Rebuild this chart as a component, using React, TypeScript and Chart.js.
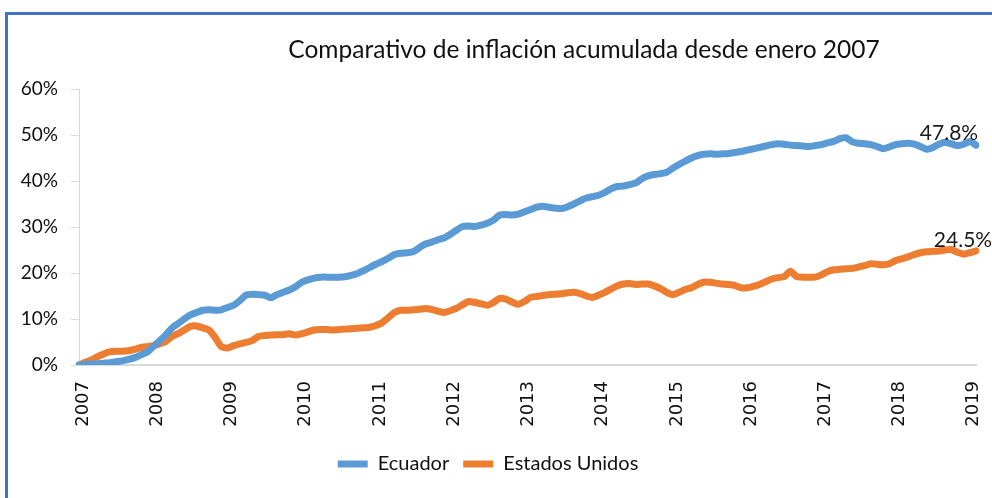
import React, { useEffect, useRef } from "react";
import { Chart, registerables } from "chart.js";

Chart.register(...registerables);

const titleText = "Comparativo de inflación acumulada desde enero 2007";
const years = ["2007","2008","2009","2010","2011","2012","2013","2014","2015","2016","2017","2018","2019"];
const seriesNames = ["Ecuador", "Estados Unidos"];
const endLabels = ["47.8%", "24.5%"];
const yTicks = [0, 10, 20, 30, 40, 50, 60];

// Cumulative inflation (%) monthly from Jan 2007
const ecuador = [
  0, 0.1, 0.2, 0.3, 0.4, 0.5, 0.7, 0.9, 1.2, 1.6, 2.2, 2.8,
  4.0, 5.2, 6.5, 8.0, 9.0, 10.0, 10.9, 11.4, 11.9, 12.0, 11.9, 12.0,
  12.5, 13.0, 14.0, 15.2, 15.4, 15.3, 15.2, 14.6, 15.3, 15.8, 16.3, 17.0,
  18.0, 18.5, 18.9, 19.1, 19.1, 19.1, 19.1, 19.2, 19.5, 19.9, 20.5, 21.2,
  21.9, 22.5, 23.2, 24.0, 24.3, 24.4, 24.6, 25.5, 26.3, 26.7, 27.2, 27.6,
  28.4, 29.3, 30.1, 30.2, 30.1, 30.4, 30.8, 31.5, 32.6, 32.7, 32.6, 32.8,
  33.3, 33.8, 34.3, 34.5, 34.3, 34.1, 34.0, 34.4, 35.0, 35.7, 36.3, 36.6,
  36.9, 37.5, 38.3, 38.8, 38.9, 39.2, 39.6, 40.5, 41.1, 41.4, 41.6, 41.9,
  42.8, 43.6, 44.3, 45.0, 45.5, 45.8, 45.9, 45.8, 45.9, 46.0, 46.2, 46.4,
  46.7, 47.0, 47.3, 47.6, 47.9, 48.1, 48.0, 47.8, 47.7, 47.6, 47.5, 47.7,
  47.9, 48.3, 48.6, 49.2, 49.4, 48.5, 48.2, 48.1, 47.9, 47.5, 47.0, 47.4,
  47.9, 48.1, 48.2, 48.0, 47.5, 46.9, 47.3, 48.0, 48.4, 48.1, 47.7, 48.0,
  48.6, 47.8
];

const estadosUnidos = [
  0, 0.6, 1.1, 1.8, 2.4, 2.9, 3.0, 3.0, 3.1, 3.4, 3.8, 4.0,
  4.2, 4.6, 5.1, 6.2, 6.8, 7.6, 8.4, 8.5, 8.1, 7.6, 6.0, 4.0,
  3.7, 4.2, 4.6, 4.9, 5.3, 6.2, 6.4, 6.5, 6.6, 6.6, 6.8, 6.5,
  6.8, 7.2, 7.6, 7.7, 7.7, 7.6, 7.7, 7.8, 7.9, 8.0, 8.1, 8.2,
  8.6, 9.2, 10.3, 11.4, 11.9, 11.9, 12.0, 12.1, 12.3, 12.1, 11.7, 11.4,
  11.8, 12.3, 13.1, 13.8, 13.6, 13.3, 13.0, 13.6, 14.5, 14.3, 13.7, 13.2,
  13.8, 14.7, 14.9, 15.1, 15.3, 15.4, 15.5, 15.7, 15.8, 15.5, 15.0, 14.7,
  15.2, 15.8, 16.5, 17.2, 17.6, 17.7, 17.5, 17.6, 17.6, 17.2, 16.6, 15.8,
  15.3, 15.8, 16.4, 16.8, 17.5, 18.0, 18.0, 17.8, 17.6, 17.5, 17.3, 16.8,
  16.8, 17.1, 17.5, 18.1, 18.7, 19.0, 19.2, 20.4, 19.2, 19.1, 19.1, 19.1,
  19.6, 20.3, 20.7, 20.8, 20.9, 21.0, 21.3, 21.6, 22.0, 21.9, 21.8, 22.0,
  22.7, 23.1, 23.5, 24.0, 24.4, 24.6, 24.7, 24.8, 25.0, 25.1, 24.5, 24.1,
  24.4, 24.8
];

const months = ["01","02","03","04","05","06","07","08","09","10","11","12"];
const categories: string[] = [];
years.forEach((y) => months.forEach((m) => categories.push(`${y}-${m}`)));
const labels = categories.slice(0, ecuador.length);

const colors = ["#5B9BD5", "#ED7D31"];
const labelFont = "Lato";

const overlayPlugin = {
  id: "overlay",
  afterDraw(chart: any) {
    const ctx = chart.ctx;
    ctx.save();
    // title
    ctx.fillStyle = "#111";
    ctx.font = `24.5px ${labelFont}`;
    ctx.textAlign = "center";
    ctx.textBaseline = "middle";
    ctx.fillText(titleText, 584, 50);
    // end labels
    const offsets = [
      [-27, -5],
      [-13, -4],
    ];
    chart.data.datasets.forEach((ds: any, i: number) => {
      const meta = chart.getDatasetMeta(i);
      const pt = meta.data[meta.data.length - 1];
      ctx.font = `21px ${labelFont}`;
      ctx.fillStyle = "#1a1a1a";
      ctx.textAlign = "center";
      ctx.textBaseline = "alphabetic";
      ctx.fillText(endLabels[i], pt.x + offsets[i][0], pt.y + offsets[i][1]);
    });
    ctx.restore();
  },
};

export default function App() {
  const ref = useRef<HTMLCanvasElement>(null);
  useEffect(() => {
    if (!ref.current) return;
    const chart = new Chart(ref.current, {
      type: "line",
      data: {
        labels,
        datasets: [
          {
            label: seriesNames[0],
            data: ecuador,
            borderColor: colors[0],
            backgroundColor: colors[0],
            borderWidth: 7,
            pointRadius: 0,
            tension: 0.2,
            borderCapStyle: "round",
            borderJoinStyle: "round",
          },
          {
            label: seriesNames[1],
            data: estadosUnidos,
            borderColor: colors[1],
            backgroundColor: colors[1],
            borderWidth: 7,
            pointRadius: 0,
            tension: 0.2,
            borderCapStyle: "round",
            borderJoinStyle: "round",
          },
        ],
      },
      options: {
        responsive: false,
        animation: false,
        layout: { padding: { left: 0, right: 16, top: 89, bottom: 14 } },
        plugins: {
          title: { display: false },
          tooltip: { enabled: false },
          legend: {
            position: "bottom",
            labels: {
              usePointStyle: true,
              pointStyle: "line",
              pointStyleWidth: 30,
              boxHeight: 7,
              padding: 14,
              color: "#111",
              font: { family: labelFont, size: 20 },
            },
          },
        },
        scales: {
          x: {
            type: "category",
            grid: { display: false, drawTicks: false },
            border: { display: true, color: "#d9d9d9", width: 2 },
            ticks: {
              autoSkip: false,
              maxRotation: 90,
              minRotation: 90,
              padding: 16,
              labelOffset: 4,
              color: "#111",
              font: { family: "DejaVu Sans", size: 18 },
              callback: (_v: any, i: number) => (i % 12 === 0 ? labels[i].slice(0, 4) : null),
            },
            afterFit: (s: any) => {
              s.height = 75;
              s.paddingLeft = 0;
              s.paddingRight = 0;
            },
          },
          y: {
            min: 0,
            max: 60,
            afterBuildTicks: (s: any) => {
              s.ticks = yTicks.map((v) => ({ value: v }));
            },
            grid: { drawOnChartArea: false, drawTicks: true, tickLength: 8, color: "#d9d9d9" },
            border: { display: true, color: "#d9d9d9", width: 1 },
            ticks: {
              padding: 13,
              color: "#111",
              font: { family: labelFont, size: 19 },
              callback: (v: any) => `${v}%`,
            },
            afterFit: (s: any) => {
              s.width = 79;
            },
          },
        },
      },
      plugins: [overlayPlugin],
    });
    return () => chart.destroy();
  }, []);

  return (
    <div style={{ position: "fixed", left: 0, top: 0, width: 992, height: 498, background: "#fff" }}>
      <canvas ref={ref} width={992} height={498} style={{ position: "absolute", left: 0, top: 0 }} />
      <div
        style={{
          position: "absolute",
          left: 5,
          top: 12,
          right: 0,
          bottom: 0,
          borderLeft: "3px solid #4472C4",
          borderTop: "3px solid #4472C4",
          pointerEvents: "none",
        }}
      />
    </div>
  );
}
